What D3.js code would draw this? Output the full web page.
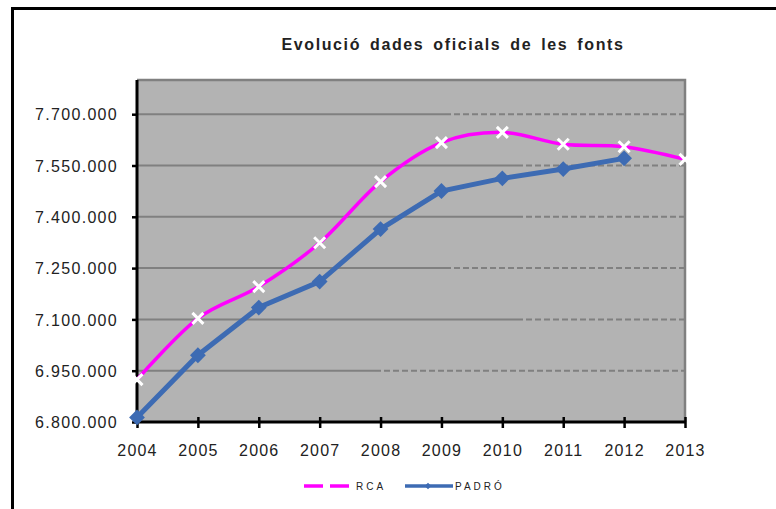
<!DOCTYPE html>
<html>
<head>
<meta charset="UTF-8">
<title>Evolució dades oficials de les fonts</title>
<script src="https://cdn.jsdelivr.net/npm/d3@7"></script>
<style>
  body { margin: 0; background: #fff; }
  svg text { font-family: "Liberation Sans", Arial, sans-serif; fill: #222; }
</style>
</head>
<body>
<svg id="chart" width="776" height="509"></svg>
<script>
// data
const years = ["2004", "2005", "2006", "2007", "2008", "2009", "2010", "2011", "2012", "2013"];
const rcaValues = [6924000, 7103000, 7196000, 7324000, 7503000, 7617000, 7647000, 7612000, 7605000, 7568000];
const padroValues = [6813319, 6995206, 7134697, 7210508, 7364078, 7475420, 7512381, 7539618, 7570908, null];
const yTicks = [6800000, 6950000, 7100000, 7250000, 7400000, 7550000, 7700000];
const seriesNames = ["RCA", "PADRÓ"];
const title = "Evolució dades oficials de les fonts";

const plot = { left: 137, right: 685, top: 80, bottom: 422 };

const svg = d3.select("#chart");

// outer frame (cut by the window on the right and bottom)
svg.append("rect")
    .attr("x", 12.5).attr("y", 8.5)
    .attr("width", 820).attr("height", 560)
    .attr("fill", "#fff")
    .attr("stroke", "#000")
    .attr("stroke-width", 3);

const x = d3.scalePoint()
    .domain(years)
    .range([plot.left, plot.right]);

const y = d3.scaleLinear()
    .domain([6800000, 7800000])
    .range([plot.bottom, plot.top]);

const loc = d3.formatLocale({ decimal: ",", thousands: ".", grouping: [3], currency: ["", ""] });
const fmt = loc.format(",d");

// plot background
svg.append("rect")
    .attr("x", plot.left).attr("y", plot.top)
    .attr("width", plot.right - plot.left)
    .attr("height", plot.bottom - plot.top)
    .attr("fill", "#b3b3b3");

// gridlines: solid first, then dashed (as in the source image)
const dashFrom = { 7700000: 445, 7550000: 517, 7400000: 517, 7250000: 445, 7100000: 517, 6950000: 375 };
const grid = svg.append("g");
yTicks.filter(v => v > 6800000).forEach(v => {
    const yy = y(v);
    grid.append("line")
        .attr("x1", plot.left).attr("x2", dashFrom[v])
        .attr("y1", yy).attr("y2", yy)
        .attr("stroke", "#808080").attr("stroke-width", 2);
    grid.append("line")
        .attr("x1", dashFrom[v]).attr("x2", plot.right)
        .attr("y1", yy).attr("y2", yy)
        .attr("stroke", "#808080").attr("stroke-width", 2)
        .attr("stroke-dasharray", "6,3");
});

// top and right border of the plot area
svg.append("path")
    .attr("d", `M${plot.left},${plot.top}H${plot.right}V${plot.bottom}`)
    .attr("fill", "none")
    .attr("stroke", "#808080")
    .attr("stroke-width", 2.5);

// y axis
const yAxis = svg.append("g")
    .attr("transform", `translate(${plot.left},0)`)
    .call(d3.axisLeft(y).tickValues(yTicks).tickFormat(fmt).tickSize(5).tickPadding(14));
yAxis.select(".domain").remove();
yAxis.selectAll(".tick line").attr("stroke", "#000").attr("stroke-width", 2.5);
yAxis.selectAll(".tick text")
    .attr("font-size", 16)
    .attr("letter-spacing", 1.3)
    .attr("dy", "0.36em")
    .style("font-family", "Liberation Sans, Arial, sans-serif")
    .attr("fill", "#222");
yAxis.append("line")
    .attr("x1", 0).attr("x2", 0)
    .attr("y1", plot.top).attr("y2", plot.bottom + 1.5)
    .attr("stroke", "#000").attr("stroke-width", 3);

// x axis
const xAxis = svg.append("g")
    .attr("transform", `translate(0,${plot.bottom})`)
    .call(d3.axisBottom(x).tickSize(5).tickPadding(18));
xAxis.select(".domain").remove();
xAxis.selectAll(".tick line")
    .attr("y1", -5).attr("y2", 6)
    .attr("stroke", "#000").attr("stroke-width", 2.5);
xAxis.selectAll(".tick text")
    .attr("font-size", 16)
    .attr("letter-spacing", 1.2)
    .style("font-family", "Liberation Sans, Arial, sans-serif")
    .attr("fill", "#222");
xAxis.append("line")
    .attr("x1", plot.left - 1.5).attr("x2", plot.right)
    .attr("y1", 0).attr("y2", 0)
    .attr("stroke", "#000").attr("stroke-width", 3);

// lines
const rcaData = years.map((yr, i) => ({ year: yr, value: rcaValues[i] }));
const padroData = years.map((yr, i) => ({ year: yr, value: padroValues[i] })).filter(d => d.value != null);

const rcaLine = d3.line()
    .x(d => x(d.year)).y(d => y(d.value))
    .curve(d3.curveCatmullRom.alpha(0));
const padroLine = d3.line()
    .x(d => x(d.year)).y(d => y(d.value));

svg.append("path")
    .datum(rcaData)
    .attr("d", rcaLine)
    .attr("fill", "none")
    .attr("stroke", "#ff00ff")
    .attr("stroke-width", 3.5);

svg.append("g").selectAll("path")
    .data(rcaData)
    .join("path")
    .attr("d", d => {
        const cx = x(d.year), cy = y(d.value), s = 5.5;
        return `M${cx - s},${cy - s}L${cx + s},${cy + s}M${cx - s},${cy + s}L${cx + s},${cy - s}`;
    })
    .attr("stroke", "#fff")
    .attr("stroke-width", 3);

svg.append("path")
    .datum(padroData)
    .attr("d", padroLine)
    .attr("fill", "none")
    .attr("stroke", "#3d6bb3")
    .attr("stroke-width", 5);

svg.append("g").selectAll("path")
    .data(padroData)
    .join("path")
    .attr("d", d3.symbol(d3.symbolSquare, 125))
    .attr("transform", d => `translate(${x(d.year)},${y(d.value)}) rotate(45)`)
    .attr("fill", "#3d6bb3");

// title
svg.append("text")
    .attr("x", 453).attr("y", 50)
    .attr("text-anchor", "middle")
    .attr("font-size", 16)
    .attr("font-weight", "bold")
    .attr("letter-spacing", 1.6)
    .attr("word-spacing", 3)
    .attr("fill", "#000")
    .text(title);

// legend
const legY = 486;
const leg = svg.append("g");
leg.append("line")
    .attr("x1", 304).attr("x2", 353)
    .attr("y1", legY).attr("y2", legY)
    .attr("stroke", "#ff00ff").attr("stroke-width", 3.5)
    .attr("stroke-dasharray", "19,7");
leg.append("text")
    .attr("x", 356).attr("y", legY + 4)
    .attr("font-size", 10)
    .attr("letter-spacing", 3)
    .attr("fill", "#222")
    .text(seriesNames[0]);
leg.append("line")
    .attr("x1", 405).attr("x2", 453)
    .attr("y1", legY).attr("y2", legY)
    .attr("stroke", "#3d6bb3").attr("stroke-width", 3.5);
leg.append("path")
    .attr("d", d3.symbol(d3.symbolSquare, 22))
    .attr("transform", `translate(428,${legY}) rotate(45)`)
    .attr("fill", "#3d6bb3");
leg.append("text")
    .attr("x", 455).attr("y", legY + 4)
    .attr("font-size", 10)
    .attr("letter-spacing", 3)
    .attr("fill", "#222")
    .text(seriesNames[1]);
</script>
</body>
</html>
